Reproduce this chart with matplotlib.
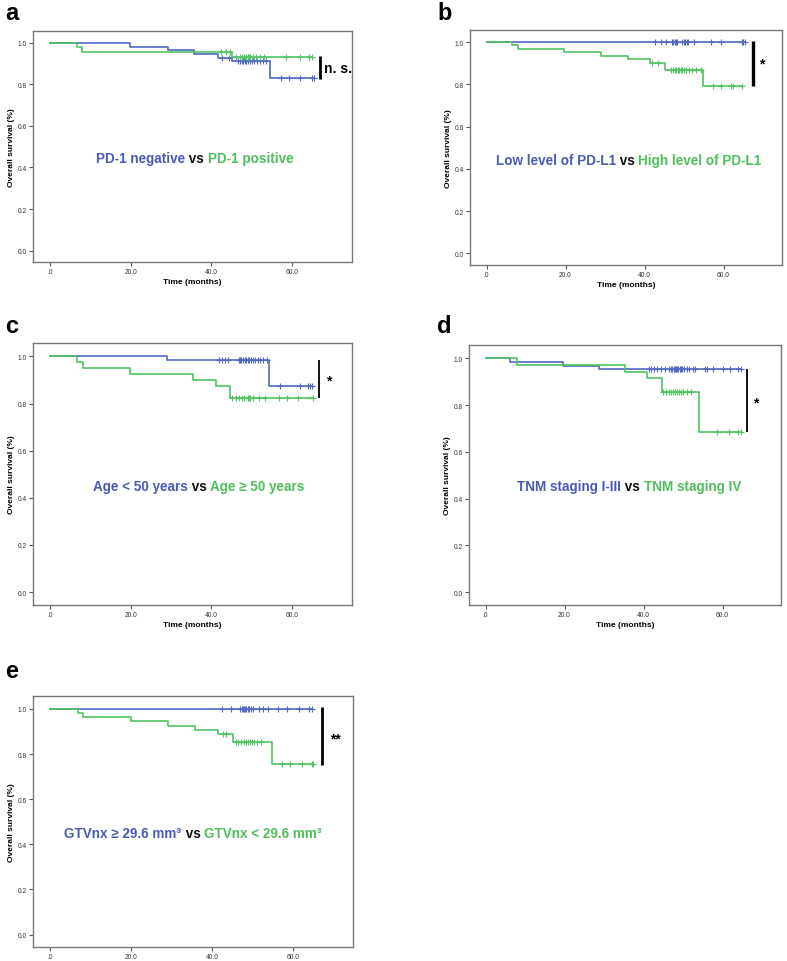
import numpy as np
import matplotlib
matplotlib.use("Agg")
import matplotlib.pyplot as plt

plt.rcParams['font.family'] = ['Liberation Sans', 'DejaVu Sans']

BLUE_LINE = '#5268c2'
GREEN_LINE = '#52c263'

# ---------------- data ----------------
# Panel a: PD-1
a_blue_times = [19.9, 29.2, 35.7, 41.5, 45.2, 54.6]
a_blue_surv = [0.982, 0.965, 0.947, 0.929, 0.912, 0.833]
a_blue_cens = [42.6, 44.4, 46.5, 47.0, 47.5, 47.8, 48.2, 48.6, 49.0, 49.5, 50.0,
               50.5, 51.3, 52.0, 52.8, 53.5, 57.1, 59.2, 62.0, 64.9, 65.5]
a_green_times = [6.7, 8.05, 45.2]
a_green_surv = [0.978, 0.957, 0.933]
a_green_cens = [42.3, 43.5, 44.6, 46.0, 47.0, 47.5, 48.0, 48.5, 49.0, 49.3, 49.6,
                50.2, 51.0, 52.0, 53.0, 58.5, 61.8, 64.2, 65.0]

# Panel b: PD-L1
b_blue_times = []
b_blue_surv = []
b_blue_cens = [42.7, 44.1, 45.5, 47.0, 47.3, 47.6, 48.0, 48.3, 49.5, 49.9, 50.3,
               50.7, 51.0, 52.6, 56.8, 59.3, 64.7, 65.0, 65.4]
b_green_times = [6.5, 8.0, 19.7, 29.0, 35.8, 41.4, 45.2, 54.8]
b_green_surv = [0.984, 0.968, 0.953, 0.935, 0.919, 0.903, 0.869, 0.793]
b_green_cens = [42.0, 43.5, 46.8, 47.2, 47.6, 48.0, 48.4, 48.8, 49.2, 49.6, 50.0,
                50.5, 51.2, 52.0, 53.0, 54.2, 57.3, 59.3, 62.0, 62.5, 64.7]

# Panel c: Age
c_blue_times = [29.0, 54.3]
c_blue_surv = [0.984, 0.874]
c_blue_cens = [41.9, 42.6, 43.3, 44.0, 46.7, 47.0, 47.4, 47.8, 48.2, 48.6, 49.0,
               49.4, 49.8, 50.2, 50.8, 51.5, 52.0, 52.8, 53.7, 56.9, 62.0, 64.0,
               64.5, 65.0]
c_green_times = [6.75, 8.1, 19.8, 35.5, 41.1, 44.7]
c_green_surv = [0.976, 0.950, 0.924, 0.900, 0.873, 0.822]
c_green_cens = [45.1, 46.0, 46.8, 47.5, 48.0, 49.0, 49.3, 49.6, 50.4, 51.7, 53.3,
                56.6, 58.6, 61.5, 65.2]

# Panel d: TNM
d_blue_times = [6.3, 19.55, 28.7]
d_blue_surv = [0.984, 0.967, 0.953]
d_blue_cens = [41.4, 42.0, 42.7, 43.4, 44.5, 45.5, 46.5, 47.0, 47.3, 47.6, 47.9,
               48.2, 48.5, 48.8, 49.1, 49.4, 49.8, 50.2, 51.0, 51.6, 52.4, 53.0,
               55.5, 56.0, 57.5, 60.0, 62.0, 64.0, 64.7]
d_green_times = [7.9, 35.4, 40.8, 44.6, 54.1]
d_green_surv = [0.970, 0.942, 0.914, 0.857, 0.684]
d_green_cens = [45.0, 45.8, 46.4, 47.0, 47.5, 48.0, 48.5, 49.0, 49.5, 50.0, 51.0,
                52.0, 58.5, 61.7, 64.0, 64.6]

# Panel e: GTVnx
e_blue_times = []
e_blue_surv = []
e_blue_cens = [42.5, 44.8, 47.0, 47.3, 47.6, 47.9, 48.2, 48.5, 48.8, 49.1, 49.5,
               50.0, 51.6, 52.5, 53.7, 56.4, 58.4, 61.4, 64.0, 64.8]
e_green_times = [6.8, 8.2, 20.0, 29.2, 35.9, 41.5, 45.2, 54.9]
e_green_surv = [0.982, 0.965, 0.945, 0.926, 0.907, 0.889, 0.852, 0.757]
e_green_cens = [42.7, 43.5, 45.8, 46.5, 47.2, 47.8, 48.3, 48.8, 49.3, 49.8, 50.3,
                51.2, 52.2, 57.3, 59.3, 62.2, 64.6, 65.0]

x_ticks = [0, 20, 40, 60]
x_tick_labels = ['.0', '20.0', '40.0', '60.0']
y_ticks = [0.0, 0.2, 0.4, 0.6, 0.8, 1.0]
y_tick_labels = ['0.0', '0.2', '0.4', '0.6', '0.8', '1.0']

a_label = [('PD-1 negative', 'b'), (' vs ', 'k'), ('PD-1 positive', 'g')]
b_label = [('Low level of PD-L1', 'b'), (' vs ', 'k'), ('High level of PD-L1', 'g')]
c_label = [('Age < 50 years', 'b'), (' vs ', 'k'), ('Age \u2265 50 years', 'g')]
d_label = [('TNM staging I-III', 'b'), (' vs ', 'k'), ('TNM staging IV', 'g')]
e_label = [('GTVnx \u2265 29.6 mm\u00b3', 'b'), (' vs ', 'k'), ('GTVnx < 29.6 mm\u00b3', 'g')]

# ---------------- figure ----------------
W, H = 787, 962
fig = plt.figure(figsize=(W / 100, H / 100), dpi=100)


def px_axes(x0, y0, x1, y1):
    return fig.add_axes([x0 / W, 1 - y1 / H, (x1 - x0) / W, (y1 - y0) / H])


def km(ax, times, surv, cens, color):
    cens = np.array(cens)
    t = np.array(times, dtype=float)
    s = np.array(surv, dtype=float)
    end = cens.max()
    xs = np.concatenate([[0.0], t, [end]])
    ys = np.concatenate([[1.0], s, [s[-1] if len(s) else 1.0]])
    ax.step(xs, ys, where='post', color=color, lw=1.2, zorder=3)
    idx = np.searchsorted(t, cens, side='right')
    cy = np.concatenate([[1.0], s])[idx]
    ax.plot(cens, cy, ls='none', marker='+', ms=4, mew=0.8, color=color, zorder=4)


TEXT_COL = {'b': '#4a5ab8', 'k': '#111111', 'g': '#4fbf5e'}


def multicolor(ax, xc, yc, parts, fontsize=9.75):
    renderer = fig.canvas.get_renderer()
    texts = []
    for s, c in parts:
        t = ax.text(0, yc, s, color=TEXT_COL[c], fontsize=fontsize, fontweight='bold',
                    ha='left', va='center')
        texts.append(t)
    widths = [t.get_window_extent(renderer).width for t in texts]
    total = sum(widths)
    cx_disp = ax.transData.transform((xc, yc))[0]
    x = cx_disp - total / 2
    inv = ax.transData.inverted()
    for t, w in zip(texts, widths):
        t.set_x(inv.transform((x, 0))[0])
        x += w


def style(ax, xlabel=True):
    ax.set_xlim(-4.2, 74.8)
    ax.set_ylim(-0.055, 1.057)
    for sp in ax.spines.values():
        sp.set_color('#777777')
        sp.set_linewidth(1.0)
    ax.set_xticks(x_ticks)
    ax.set_xticklabels(x_tick_labels)
    ax.set_yticks(y_ticks)
    ax.set_yticklabels(y_tick_labels)
    ax.tick_params(direction='out', length=3, width=0.8, color='#555555',
                   labelsize=4.8, labelcolor='#333333', pad=1.5)
    ax.set_ylabel('Overall survival (%)', fontsize=6, fontweight='bold', labelpad=1.5)
    if xlabel:
        ax.set_xlabel('Time (months)', fontsize=6, fontweight='bold', labelpad=2)


def sig(ax, x, y0, y1, text, tx, ty, lw=2.0, fs=10):
    ax.plot([x, x], [y0, y1], color='black', lw=lw, solid_capstyle='butt', zorder=5)
    ax.text(tx, ty, text, fontsize=fs, fontweight='bold', ha='left', va='center')


panels = [
    ('a', (33, 32, 352, 263), (5, 20), a_blue_times, a_blue_surv, a_blue_cens,
     a_green_times, a_green_surv, a_green_cens, a_label, (35.8, 0.446),
     (66.9, 0.936, 0.825, 'n. s.', 67.9, 0.88, 2.0), True),
    ('b', (470, 31, 782, 266), (437, 20), b_blue_times, b_blue_surv, b_blue_cens,
     b_green_times, b_green_surv, b_green_cens, b_label, (36.0, 0.443),
     (67.5, 1.003, 0.790, '*', 69.0, 0.90, 2.4), True),
    ('c', (33, 344, 352, 606), (5, 333), c_blue_times, c_blue_surv, c_blue_cens,
     c_green_times, c_green_surv, c_green_cens, c_label, (36.8, 0.45),
     (66.7, 0.984, 0.822, '*', 68.3, 0.90, 1.3), True),
    ('d', (469, 346, 781, 606), (437, 333), d_blue_times, d_blue_surv, d_blue_cens,
     d_green_times, d_green_surv, d_green_cens, d_label, (36.4, 0.455),
     (66.1, 0.953, 0.684, '*', 67.8, 0.81, 1.3), True),
    ('e', (33, 697, 353, 948), (5, 678), e_blue_times, e_blue_surv, e_blue_cens,
     e_green_times, e_green_surv, e_green_cens, e_label, (35.3, 0.45),
     (67.1, 1.007, 0.752, '**', 69.2, 0.87, 2.0), False),
]

for (letter, box, lpos, bt, bs, bc, gt, gs, gc, label, lab_pos, sg, xl) in panels:
    ax = px_axes(*box)
    style(ax, xlabel=xl)
    km(ax, bt, bs, bc, BLUE_LINE)
    km(ax, gt, gs, gc, GREEN_LINE)
    multicolor(ax, lab_pos[0], lab_pos[1], label)
    sx, sy0, sy1, stext, stx, sty, slw = sg
    sig(ax, sx, sy0, sy1, stext, stx, sty, lw=slw)
    fig.text(lpos[0] / W, 1 - lpos[1] / H, letter, fontsize=17, fontweight='bold',
             ha='left', va='baseline')

fig.savefig('out.png', dpi=100, facecolor='white')
